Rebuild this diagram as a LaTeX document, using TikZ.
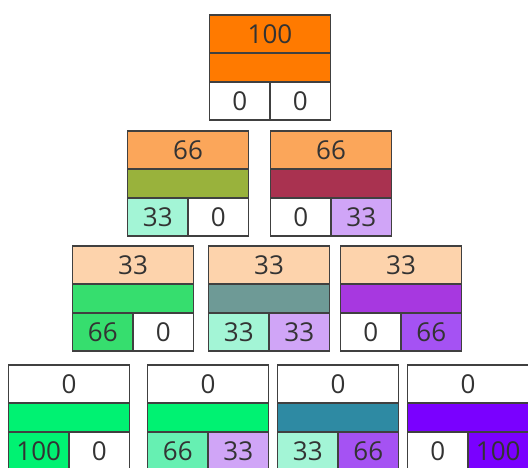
\documentclass[tikz,border=0pt]{standalone}
\usepackage{fontspec}
\setmainfont{Open Sans}
\usepackage{xcolor}
\usepackage{tikz}
\usetikzlibrary{positioning}

% Colori
\definecolor{arancio}{HTML}{FF7A00}
\definecolor{arancioch}{HTML}{FBA65A}
\definecolor{pesca}{HTML}{FDD3AC}
\definecolor{oliva}{HTML}{99B23C}
\definecolor{lampone}{HTML}{A93250}
\definecolor{menta}{HTML}{A3F5D6}
\definecolor{lavanda}{HTML}{D0A5F7}
\definecolor{verde}{HTML}{36DE6E}
\definecolor{grigioverde}{HTML}{6E9A96}
\definecolor{viola}{HTML}{A738E0}
\definecolor{violach}{HTML}{A552F3}
\definecolor{verdeacceso}{HTML}{00F272}
\definecolor{verdemare}{HTML}{66F0B2}
\definecolor{petrolio}{HTML}{2E8AA3}
\definecolor{indaco}{HTML}{7A00FF}

% Blocco: nome, centro, colore/valore sopra, colore barra, sx, dx
\newcommand{\blocco}[9]{%
  \node[cella, fill=#3] (#1-top) at #2 {#4};
  \node[barra, fill=#5, below=0pt of #1-top] (#1-mid) {};
  \node[mezza, fill=#6, anchor=north west] (#1-sx) at (#1-mid.south west) {#7};
  \node[mezza, fill=#8, anchor=north east] (#1-dx) at (#1-mid.south east) {#9};
}

\begin{document}
\begin{tikzpicture}[x=1pt, y=-1pt,
    base/.style={draw=black!75, line width=1.2pt, inner sep=0pt, outer sep=0pt,
      text=black!80, font=\fontsize{26}{26}\selectfont},
    cella/.style={base, minimum width=121pt, minimum height=38pt},
    barra/.style={base, minimum width=121pt, minimum height=29pt},
    mezza/.style={base, minimum width=60.5pt, minimum height=38pt}]
  \useasboundingbox (0,0) rectangle (528,468);
  \clip (0,0) rectangle (528,468);

  % Riga 1
  \blocco{a}{(270,34)}{arancio}{100}{arancio}{white}{0}{white}{0}

  % Riga 2
  \blocco{b1}{(188,150)}{arancioch}{66}{oliva}{menta}{33}{white}{0}
  \blocco{b2}{(331,150)}{arancioch}{66}{lampone}{white}{0}{lavanda}{33}

  % Riga 3
  \blocco{c1}{(133,265)}{pesca}{33}{verde}{verde}{66}{white}{0}
  \blocco{c2}{(269,265)}{pesca}{33}{grigioverde}{menta}{33}{lavanda}{33}
  \blocco{c3}{(401,265)}{pesca}{33}{viola}{white}{0}{violach}{66}

  % Riga 4
  \blocco{d1}{(69,384)}{white}{0}{verdeacceso}{verdeacceso}{100}{white}{0}
  \blocco{d2}{(208,384)}{white}{0}{verdeacceso}{verdemare}{66}{lavanda}{33}
  \blocco{d3}{(338,384)}{white}{0}{petrolio}{menta}{33}{violach}{66}
  \blocco{d4}{(468,384)}{white}{0}{indaco}{white}{0}{indaco}{100}
\end{tikzpicture}
\end{document}
